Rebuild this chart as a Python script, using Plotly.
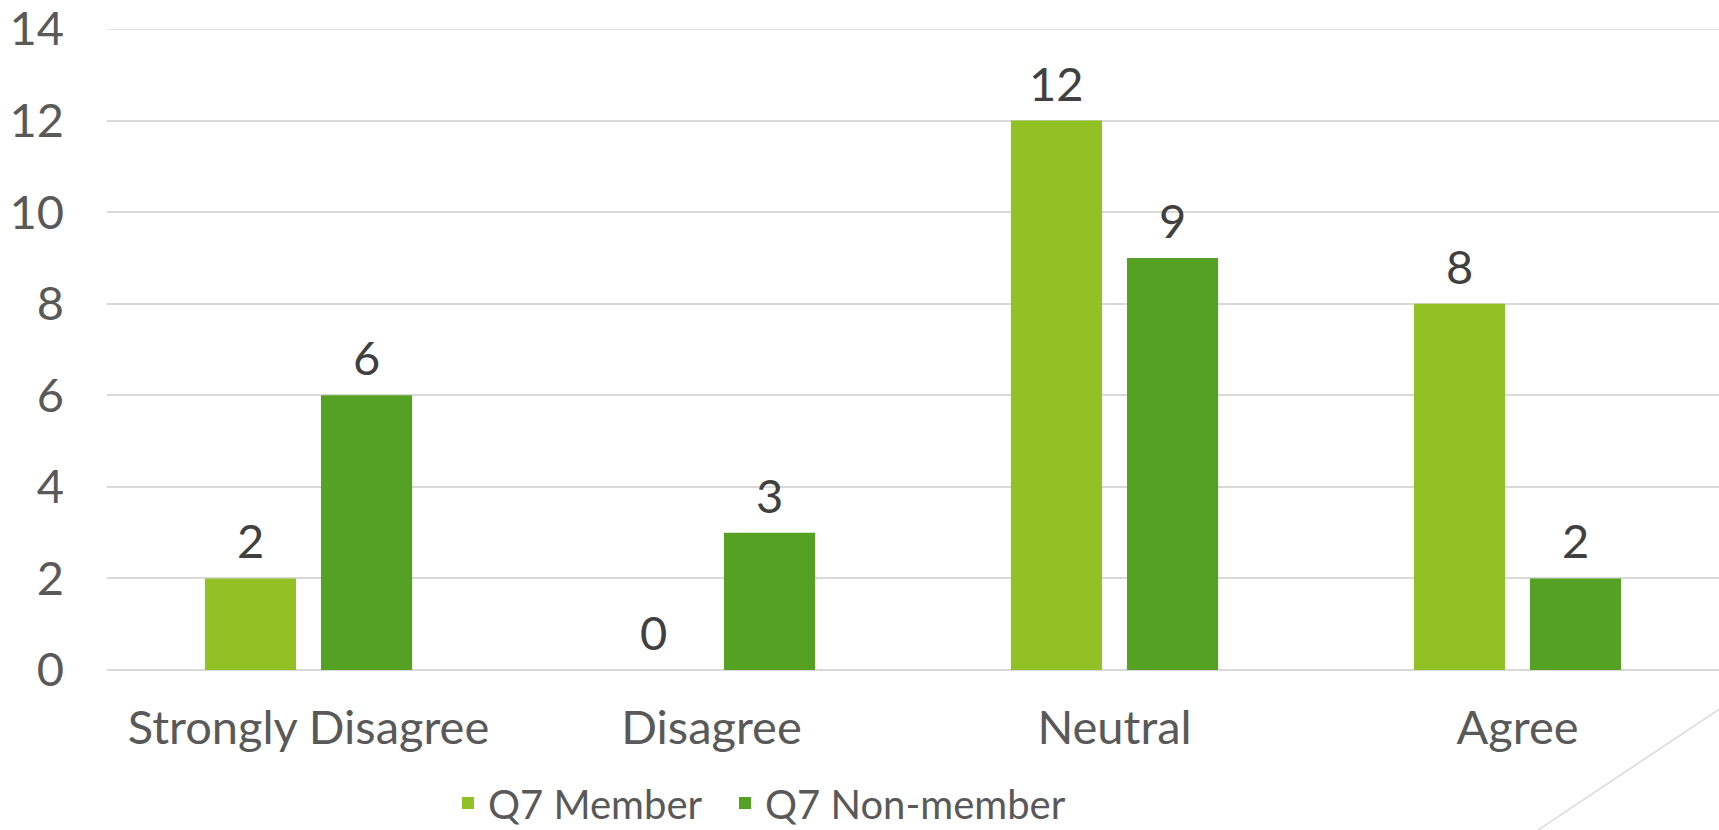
import plotly.graph_objects as go

categories = ["Strongly Disagree", "Disagree", "Neutral", "Agree"]
member = [2, 0, 12, 8]
non_member = [6, 3, 9, 2]
series_names = ["Q7 Member", "Q7 Non-member"]
colors = ["#92C126", "#55A123"]
y_ticks = [0, 2, 4, 6, 8, 10, 12, 14]

W, H = 1719, 830
L, R, T, B = 107, 0, 29, 160
FONT = "Lato"
FS = 47
LFS = 40

fig = go.Figure()
legend_ids = ["legend", "legend2"]
for name, vals, col, lg in zip(series_names, [member, non_member], colors, legend_ids):
    fig.add_trace(go.Bar(x=categories, y=vals, name=name, legend=lg,
                         marker=dict(color=col, line=dict(width=0))))

# data labels above bars
offsets = [-58, 58]
for vals, dx in zip([member, non_member], offsets):
    for c, v in zip(categories, vals):
        fig.add_annotation(x=c, y=v, xref="x", yref="y", text=str(v), showarrow=False,
                           xshift=dx, yshift=38, font=dict(family=FONT, size=FS, color="#404040"))

PW = W - L - R
PH = H - T - B
# top gridline (plotly hides the grid line at the very end of the range)
fig.add_shape(type="line", xref="paper", yref="y", x0=0, x1=1, y0=y_ticks[-1], y1=y_ticks[-1],
              line=dict(color="#D9D9D9", width=1.5))
# decorative diagonal line bottom right
fig.add_shape(type="line", xref="paper", yref="paper",
              x0=(1538 - L) / PW, y0=(H - B - 830) / PH,
              x1=(1760 - L) / PW, y1=(H - B - 682) / PH,
              line=dict(color="#D9D9D9", width=1.5))

legend_style = dict(orientation="h", xanchor="left", y=(H - B - 803) / PH, yanchor="middle",
                    font=dict(family=FONT, size=LFS, color="#595959"),
                    itemwidth=30, bgcolor="rgba(0,0,0,0)")

fig.update_layout(
    width=W, height=H,
    margin=dict(l=L, r=R, t=T, b=B, autoexpand=False),
    plot_bgcolor="white", paper_bgcolor="white",
    barmode="group", bargap=0.424, bargroupgap=0.215,
    font=dict(family=FONT, size=FS, color="#595959"),
    showlegend=True,
    legend=dict(x=(448 - L) / PW, **legend_style),
    legend2=dict(x=(725 - L) / PW, **legend_style),
    xaxis=dict(showgrid=False, showline=False, ticks="", ticklabelstandoff=26,
               tickfont=dict(size=FS, color="#595959")),
    yaxis=dict(range=[0, 14], tickvals=y_ticks, showgrid=True, gridcolor="#D9D9D9", gridwidth=1.5,
               zeroline=True, zerolinecolor="#D9D9D9", zerolinewidth=1.5, showline=False,
               ticks="", ticklabelstandoff=42, ticklabeloverflow="allow",
               tickfont=dict(size=FS, color="#595959")),
)

fig.write_html("out.html", config={"displayModeBar": False},
               post_script="document.body.style.margin='0';document.body.style.overflow='hidden';")
